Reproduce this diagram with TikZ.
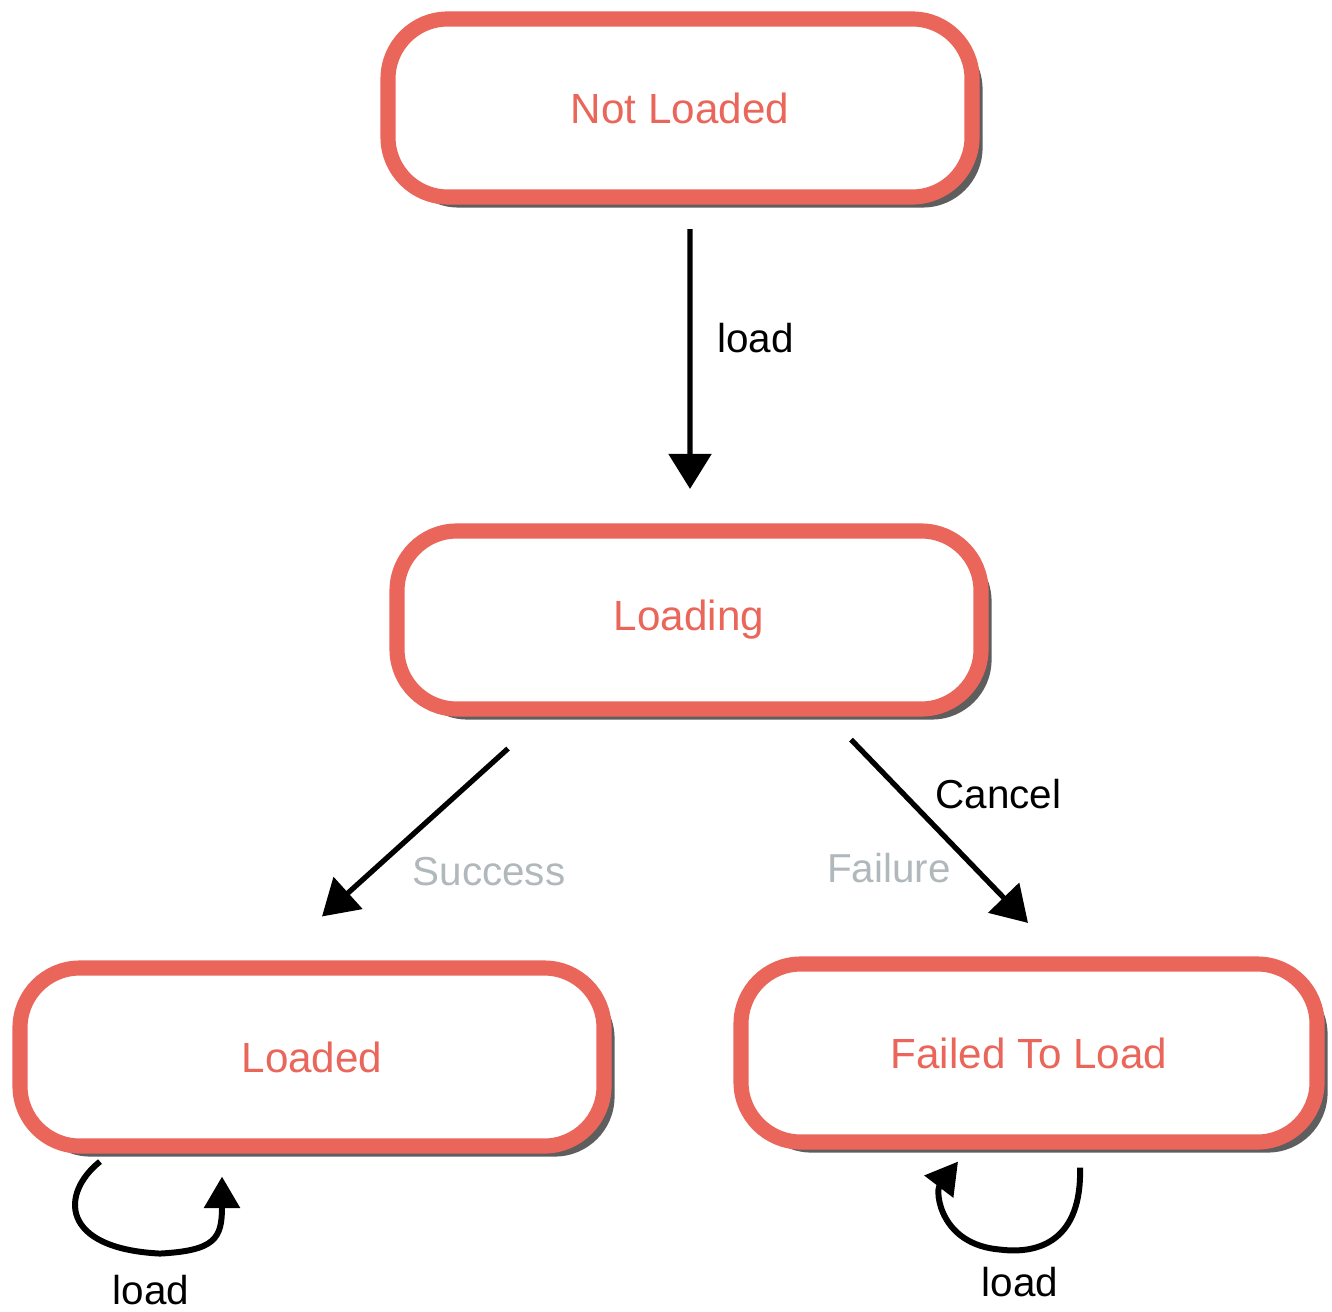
\documentclass[tikz,border=0pt]{standalone}
\usepackage{fontspec}
\setmainfont{Liberation Sans}
\usetikzlibrary{arrows.meta,shadows}
\definecolor{statered}{RGB}{234,102,90}
\definecolor{labelgray}{RGB}{176,184,188}
\begin{document}
\begin{tikzpicture}[
  state/.style={rectangle,rounded corners=17pt,draw=statered,line width=4.3pt,
    fill=white,text=statered,minimum width=5.84cm,minimum height=1.78cm,
    font=\fontsize{12pt}{14pt}\selectfont,
    drop shadow={shadow xshift=3pt,shadow yshift=-3pt,fill=black!70,opacity=0.9}},
  arr/.style={line width=1.5pt,-{Triangle[width=12pt,length=10pt]}},
  looparr/.style={line width=1.7pt,-{Triangle[width=10pt,length=9pt]}},
  lbl/.style={font=\fontsize{11.5pt}{14pt}\selectfont},
  faint/.style={lbl,text=labelgray}]
\useasboundingbox (0,0) rectangle (13.32,-13.11);
\node [state] (notloaded) at (6.80,-1.08) {Not Loaded};
\node [state] (loading) at (6.89,-6.20) {Loading};
\node [state] (loaded) at (3.12,-10.57) {Loaded};
\node [state,minimum width=5.76cm] (failed) at (10.29,-10.53) {Failed To Load};

\draw [arr] ([xshift=0.1cm,yshift=-0.245cm]notloaded.south) -- ([xshift=0.01cm,yshift=0.345cm]loading.north)
  node [lbl,pos=0.42,anchor=west,xshift=0.13cm] (loadlbl) {load};
\draw [arr] ([xshift=-1.81cm,yshift=-0.32cm]loading.south) -- ([xshift=0.1cm,yshift=0.44cm]loaded.north)
  node [faint,pos=0.73,anchor=west,xshift=0.26cm] (successlbl) {Success};
\draw [arr] ([xshift=1.62cm,yshift=-0.23cm]loading.south) -- ([xshift=-0.01cm,yshift=0.335cm]failed.north)
  node [lbl,pos=0.295,anchor=west,xshift=0.18cm] (cancellbl) {Cancel}
  node [faint,pos=0.70,anchor=east,xshift=-0.1cm] (failurelbl) {Failure};

% self loops
\draw [looparr] ([xshift=-2.12cm,yshift=-0.08cm]loaded.south)
  .. controls +(-0.40,-0.32) and +(-1.0,0.05) .. ++(0.60,-0.92)
  .. controls +(0.55,0.03) and +(0,-0.62) .. ++(0.62,0.77);
\node [lbl] (loadedloop) at (1.51,-12.90) {load};
\draw [looparr] ([xshift=0.51cm,yshift=-0.18cm]failed.south)
  .. controls +(0.02,-0.72) and +(0.40,-0.05) .. ++(-0.80,-0.82)
  .. controls +(-0.60,0.05) and +(-0.23,-0.30) .. ++(-0.42,0.88);
\node [lbl] (failedloop) at (10.20,-12.82) {load};
\end{tikzpicture}
\end{document}
